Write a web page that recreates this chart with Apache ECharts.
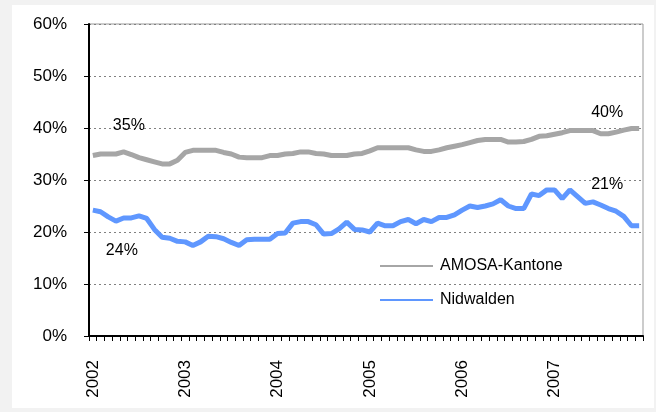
<!DOCTYPE html>
<html>
<head>
<meta charset="utf-8">
<script src="https://cdn.jsdelivr.net/npm/echarts@6/dist/echarts.min.js"></script>
<style>
  html, body { margin: 0; padding: 0; background: #f2f2f2; }
  #chart { width: 656px; height: 412px; }
</style>
</head>
<body>
<div id="chart"></div>
<script>
// Monatswerte Jan 2002 - Dez 2007
const years = ['2002', '2003', '2004', '2005', '2006', '2007']
const months = []
years.forEach(y => {
  for (let m = 1; m <= 12; m++) months.push(y + '-' + (m < 10 ? '0' + m : m))
})

const amosa = [
  34.7, 35.0, 35.0, 35.0, 35.4, 34.9, 34.3, 33.9, 33.5, 33.1, 33.1, 33.8,
  35.3, 35.7, 35.7, 35.7, 35.7, 35.3, 35.0, 34.4, 34.3, 34.3, 34.3, 34.7,
  34.7, 35.0, 35.1, 35.4, 35.4, 35.1, 35.0, 34.7, 34.7, 34.7, 35.0, 35.1,
  35.6, 36.2, 36.2, 36.2, 36.2, 36.2, 35.8, 35.5, 35.5, 35.8, 36.2, 36.5,
  36.8, 37.2, 37.6, 37.8, 37.8, 37.8, 37.3, 37.3, 37.4, 37.8, 38.4, 38.5,
  38.8, 39.1, 39.5, 39.5, 39.5, 39.5, 38.9, 38.9, 39.2, 39.6, 39.9, 39.9
]
const nidwalden = [
  24.2, 23.9, 22.9, 22.1, 22.7, 22.7, 23.1, 22.6, 20.5, 19.0, 18.8, 18.2,
  18.1, 17.4, 18.1, 19.2, 19.1, 18.7, 18.0, 17.4, 18.5, 18.6, 18.6, 18.6,
  19.7, 19.8, 21.7, 22.0, 22.0, 21.4, 19.6, 19.7, 20.6, 21.9, 20.5, 20.4,
  20.0, 21.7, 21.2, 21.2, 22.0, 22.4, 21.6, 22.4, 22.0, 22.8, 22.8, 23.3,
  24.2, 25.0, 24.7, 25.0, 25.4, 26.2, 25.0, 24.5, 24.5, 27.3, 27.0, 28.1,
  28.1, 26.4, 28.1, 26.8, 25.5, 25.8, 25.2, 24.5, 24.0, 23.0, 21.2, 21.2
]
const yTicks = { min: 0, max: 60, interval: 10 }

const font = '"Liberation Sans", Arial, sans-serif'
const last = months.length - 1

// Beschriftung am ersten und letzten Punkt
function endLabel(idx, values, offset) {
  return {
    coord: [idx, values[idx]],
    value: values[idx],
    symbol: 'circle',
    symbolSize: 0,
    label: {
      show: true,
      position: 'inside',
      offset: offset,
      formatter: p => Math.round(p.value) + '%',
      color: '#000',
      fontSize: 16,
      fontFamily: font
    }
  }
}

const myChart = echarts.init(document.getElementById('chart'))
const option = {
  backgroundColor: '#f2f2f2',
  animation: false,
  graphic: [
    {
      type: 'rect',
      z: -10,
      shape: { x: 12, y: 5, width: 642, height: 403 },
      style: { fill: '#ffffff' }
    }
  ],
  grid: {
    left: 89,
    top: 24,
    width: 554,
    height: 312,
    show: true,
    backgroundColor: '#ffffff',
    borderColor: '#999999',
    borderWidth: 1
  },
  legend: {
    orient: 'vertical',
    left: 380,
    top: 258,
    padding: 0,
    itemGap: 18,
    itemWidth: 53,
    itemHeight: 2,
    icon: 'rect',
    textStyle: { fontSize: 16, fontFamily: font, color: '#000', padding: [0, 0, 0, 2] },
    data: ['AMOSA-Kantone', 'Nidwalden']
  },
  xAxis: {
    type: 'category',
    data: months,
    boundaryGap: true,
    axisLine: { lineStyle: { color: '#000', width: 2 } },
    axisTick: { show: true, interval: 0, length: 5, lineStyle: { color: '#000' } },
    axisLabel: {
      interval: 0,
      rotate: 90,
      margin: 24,
      fontSize: 17,
      fontFamily: font,
      color: '#000',
      formatter: v => (v.slice(5) === '01' ? v.slice(0, 4) : '')
    },
    splitLine: { show: false }
  },
  yAxis: {
    type: 'value',
    min: yTicks.min,
    max: yTicks.max,
    interval: yTicks.interval,
    axisLine: { show: true, lineStyle: { color: '#000', width: 2 } },
    axisTick: { show: true, length: 5, lineStyle: { color: '#000' } },
    axisLabel: {
      margin: 22,
      fontSize: 17,
      fontFamily: font,
      color: '#000',
      formatter: '{value}%'
    },
    splitLine: { lineStyle: { color: '#808080', type: [2, 3], width: 1 } }
  },
  series: [
    {
      name: 'AMOSA-Kantone',
      type: 'line',
      data: amosa,
      symbol: 'none',
      color: '#a6a6a6',
      lineStyle: { width: 5, color: '#a6a6a6' },
      markPoint: {
        data: [endLabel(0, amosa, [36, -30]), endLabel(last, amosa, [-32, -16])]
      }
    },
    {
      name: 'Nidwalden',
      type: 'line',
      data: nidwalden,
      symbol: 'none',
      color: '#5f97ff',
      lineStyle: { width: 5, color: '#5f97ff' },
      markPoint: {
        data: [endLabel(0, nidwalden, [29, 40]), endLabel(last, nidwalden, [-32, -41])]
      }
    }
  ]
}
myChart.setOption(option)
</script>
</body>
</html>
